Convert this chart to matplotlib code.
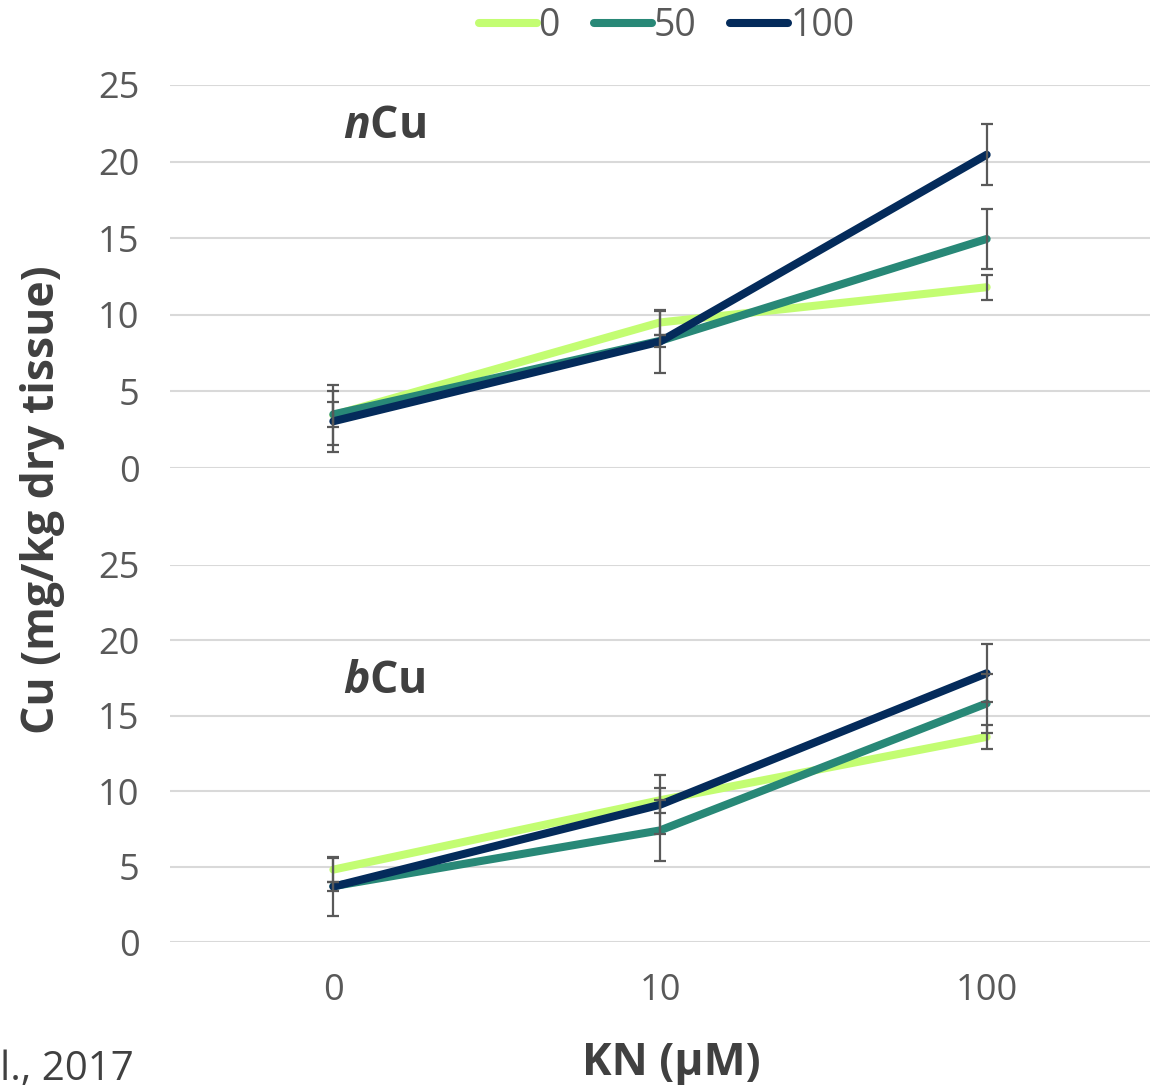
import numpy as np
import matplotlib
matplotlib.use("Agg")
import matplotlib.pyplot as plt

plt.rcParams['font.family'] = ['Open Sans', 'DejaVu Sans']
plt.rcParams['mathtext.fontset'] = 'custom'
plt.rcParams['mathtext.it'] = 'Open Sans:italic:bold'

# data
kn_labels = ["0", "10", "100"]
series = ["0", "50", "100"]
colors = ["#C3FD72", "#288877", "#042B5B"]

ncu_vals = {"0": [3.45, 9.5, 11.8], "50": [3.5, 8.3, 14.95], "100": [3.05, 8.25, 20.45]}
ncu_err = {"0": [1.98, 0.8, 0.83], "50": [0.8, 0.4, 1.98], "100": [1.99, 2.03, 1.98]}

bcu_vals = {"0": [4.8, 9.4, 13.6], "50": [3.7, 7.4, 15.82], "100": [3.67, 9.1, 17.82]}
bcu_err = {"0": [0.8, 0.82, 0.8], "50": [0.3, 2.0, 1.98], "100": [1.95, 1.97, 1.92]}

W, H = 1157, 1085
fig = plt.figure(figsize=(W / 100, H / 100), dpi=100)

grey = "#595959"
dark = "#404040"
x = np.arange(len(kn_labels))

left = 170 / W
width = 980 / W
ax1 = fig.add_axes([left, (H - 468) / H, width, 383 / H])
ax2 = fig.add_axes([left, (H - 942) / H, width, 377 / H])

for ax, v, e, show in [(ax1, ncu_vals, ncu_err, False), (ax2, bcu_vals, bcu_err, True)]:
    for s, c in zip(series, colors):
        ax.plot(x, v[s], color=c, lw=5.8, solid_capstyle="round", solid_joinstyle="round", zorder=3, label=s)
        ax.errorbar(x, v[s], yerr=e[s], fmt="none", ecolor=grey, elinewidth=1.6,
                    capsize=4.5, capthick=1.6, zorder=4)
    ax.set_xlim(-0.5, 2.5)
    ax.set_ylim(0, 25)
    ax.set_yticks(range(0, 26, 5))
    ax.grid(axis="y", color="#D9D9D9", lw=1.5, zorder=0)
    ax.set_axisbelow(True)
    for sp in ax.spines.values():
        sp.set_visible(False)
    ax.tick_params(axis="both", length=0, labelsize=26, labelcolor=grey, pad=22)
    ax.set_xticks(x)
    ax.set_xticklabels(kn_labels if show else [])

ax1.text(0.03, 22.3, r"$n$Cu", fontsize=32, fontweight="bold", color=dark, ha="left", va="center")
ax2.text(0.03, 17.3, r"$b$Cu", fontsize=32, fontweight="bold", color=dark, ha="left", va="center")

handles, labs = ax1.get_legend_handles_labels()
fig.legend(handles, labs, loc="upper center", bbox_to_anchor=(0.576, 1.025), ncol=3, frameon=False,
           fontsize=27, labelcolor=grey, handlelength=1.55, handletextpad=0.05, columnspacing=0.9)

fig.text(43 / W, (H - 500) / H, "Cu (mg/kg dry tissue)", rotation=90, ha="center", va="center",
         fontsize=32, fontweight="bold", color=dark)
fig.text(671 / W, (H - 1063) / H, "KN (µM)", ha="center", va="center",
         fontsize=32, fontweight="bold", color=dark)
fig.text(0.0, (H - 1070) / H, "l., 2017", ha="left", va="center", fontsize=29, color=dark)

fig.savefig("out.png", dpi=100)
